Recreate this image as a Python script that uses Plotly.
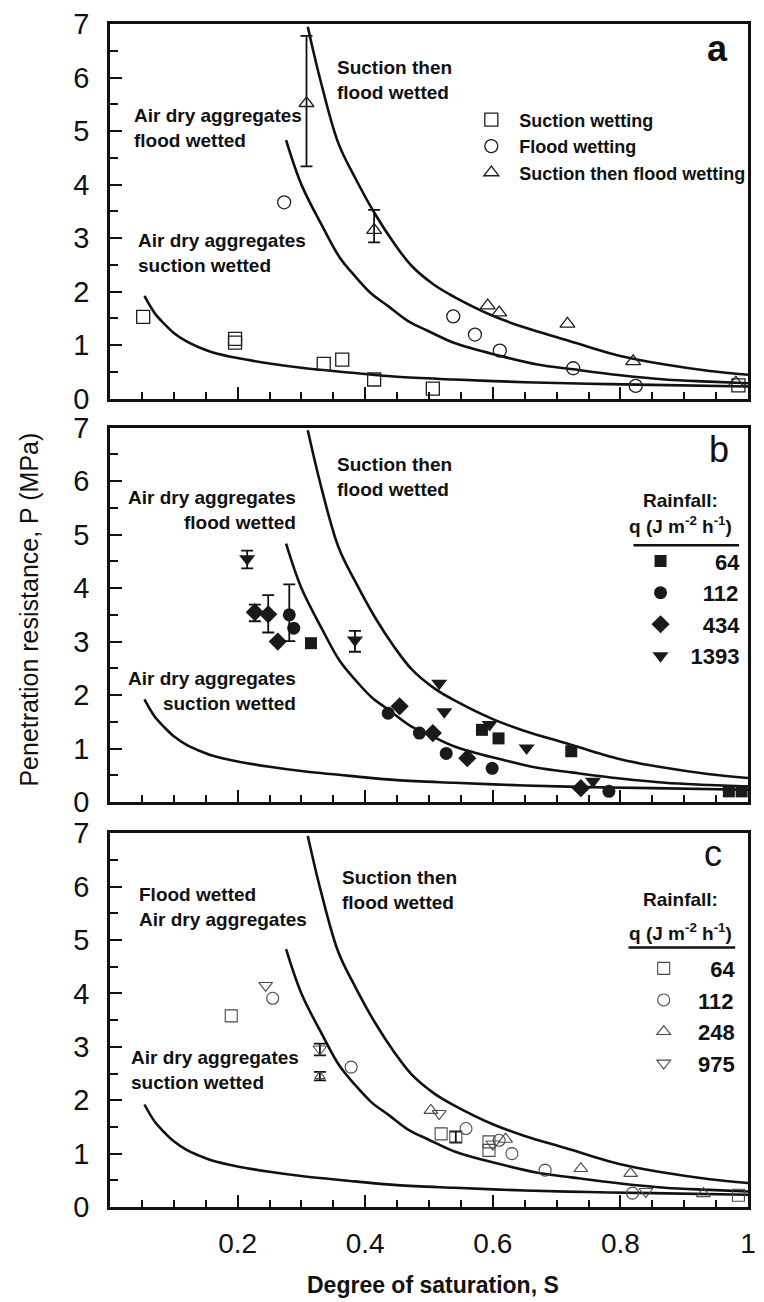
import plotly.graph_objects as go

# ---------------- curves (same in all panels) -------------
S_suction = [0.054, 0.07, 0.085, 0.1, 0.12, 0.136, 0.16, 0.2, 0.25, 0.3, 0.384, 0.45, 0.54, 0.65, 0.75, 0.85, 1.0]
P_suction = [1.92, 1.60, 1.40, 1.23, 1.07, 0.98, 0.87, 0.76, 0.66, 0.58, 0.48, 0.41, 0.36, 0.31, 0.28, 0.26, 0.23]

S_flood = [0.276, 0.3, 0.333, 0.36, 0.384, 0.41, 0.436, 0.47, 0.498, 0.54, 0.612, 0.67, 0.726, 0.8, 0.87, 0.94, 1.0]
P_flood = [4.83, 4.00, 3.22, 2.64, 2.29, 1.96, 1.73, 1.43, 1.27, 1.04, 0.80, 0.64, 0.55, 0.44, 0.36, 0.32, 0.29]

S_sf = [0.31, 0.33, 0.358, 0.385, 0.415, 0.445, 0.473, 0.509, 0.54, 0.6, 0.65, 0.715, 0.8, 0.87, 0.94, 1.0]
P_sf = [6.95, 5.94, 4.77, 4.11, 3.46, 2.91, 2.48, 2.12, 1.90, 1.55, 1.33, 1.10, 0.80, 0.64, 0.52, 0.45]

# ---------------- panel a ----------------
a_sq_S = [0.052, 0.196, 0.196, 0.335, 0.364, 0.414, 0.506, 0.985]
a_sq_P = [1.53, 1.05, 1.12, 0.65, 0.73, 0.36, 0.19, 0.25]
a_ci_S = [0.273, 0.538, 0.572, 0.611, 0.726, 0.824]
a_ci_P = [3.67, 1.54, 1.20, 0.90, 0.57, 0.24]
a_tr_S = [0.592, 0.61, 0.717, 0.82, 0.981]
a_tr_P = [1.74, 1.61, 1.40, 0.70, 0.30]
a_tre_S = [0.308, 0.414]
a_tre_P = [5.52, 3.15]
a_tre_up = [1.26, 0.38]
a_tre_dn = [1.18, 0.23]

# ---------------- panel b ----------------
b_sq_S = [0.315, 0.583, 0.609, 0.723, 0.97, 0.99]
b_sq_P = [2.97, 1.35, 1.19, 0.95, 0.20, 0.20]
b_ci_S = [0.288, 0.436, 0.485, 0.527, 0.599, 0.782]
b_ci_P = [3.25, 1.66, 1.29, 0.91, 0.63, 0.20]
b_cie_S = [0.281]
b_cie_P = [3.50]
b_cie_up = [0.57]
b_cie_dn = [0.49]
b_di_S = [0.263, 0.454, 0.506, 0.56, 0.738]
b_di_P = [3.00, 1.79, 1.29, 0.82, 0.26]
b_die_S = [0.227, 0.248]
b_die_P = [3.55, 3.51]
b_die_up = [0.14, 0.36]
b_die_dn = [0.17, 0.34]
b_td_S = [0.516, 0.524, 0.595, 0.653, 0.757]
b_td_P = [2.22, 1.69, 1.45, 1.01, 0.39]
b_tde_S = [0.215, 0.384]
b_tde_P = [4.55, 3.03]
b_tde_up = [0.15, 0.17]
b_tde_dn = [0.18, 0.22]

# ---------------- panel c ----------------
c_sq_S = [0.19, 0.519, 0.594, 0.594, 0.985]
c_sq_P = [3.58, 1.37, 1.22, 1.06, 0.22]
c_sqe_S = [0.542]
c_sqe_P = [1.31]
c_sqe_err = [0.10]
c_ci_S = [0.255, 0.378, 0.558, 0.61, 0.63, 0.682, 0.819]
c_ci_P = [3.91, 2.62, 1.47, 1.25, 1.00, 0.69, 0.26]
c_tu_S = [0.503, 0.62, 0.738, 0.816, 0.93]
c_tu_P = [1.81, 1.27, 0.72, 0.63, 0.25]
c_tue_S = [0.329]
c_tue_P = [2.45]
c_tue_err = [0.08]
c_td_S = [0.244, 0.516, 0.60, 0.84]
c_td_P = [4.15, 1.75, 1.18, 0.29]
c_tde_S = [0.329]
c_tde_P = [2.96]
c_tde_up = [0.10]
c_tde_dn = [0.12]

x_tickvals = [0.2, 0.4, 0.6, 0.8, 1.0]
x_ticktext = ["0.2", "0.4", "0.6", "0.8", "1"]
y_tickvals = [0, 1, 2, 3, 4, 5, 6, 7]

FONT = "Liberation Sans"
INK = "#111111"

fig = go.Figure()

def add_curves(xa, ya):
    for S, P in ((S_suction, P_suction), (S_flood, P_flood), (S_sf, P_sf)):
        fig.add_trace(go.Scatter(x=S, y=P, mode="lines", xaxis=xa, yaxis=ya,
                                 line=dict(color=INK, width=2.6, shape="spline", smoothing=1.0),
                                 showlegend=False, hoverinfo="skip"))

def add_pts(S, P, xa, ya, symbol, size, color, lw, name=None, legend=None, err=None):
    kw = {}
    if err is not None:
        up, dn = err
        kw["error_y"] = dict(type="data", symmetric=False, array=up, arrayminus=dn,
                             color=INK, thickness=1.8, width=6)
    fig.add_trace(go.Scatter(x=S, y=P, mode="markers", xaxis=xa, yaxis=ya,
                             marker=dict(symbol=symbol, size=size, color=color,
                                         line=dict(width=lw, color=color)),
                             name=name if name else "", showlegend=name is not None,
                             legend=legend if legend else "legend", **kw))

# panel a
add_curves("x", "y")
OA = "#1e1e1e"
add_pts(a_sq_S, a_sq_P, "x", "y", "square-open", 13, OA, 1.3,
        "<b>Suction wetting</b>", "legend")
add_pts(a_ci_S, a_ci_P, "x", "y", "circle-open", 13, OA, 1.3,
        "<b>Flood wetting</b>", "legend")
add_pts(a_tr_S, a_tr_P, "x", "y", "triangle-up-open", 13, OA, 1.3,
        "<b>Suction then flood wetting</b>", "legend")
add_pts(a_tre_S, a_tre_P, "x", "y", "triangle-up-open", 13, OA, 1.3,
        err=(a_tre_up, a_tre_dn))

# panel b
add_curves("x2", "y2")
FB = "#1a1a1a"
add_pts(b_sq_S, b_sq_P, "x2", "y2", "square", 12, FB, 0, "<b>\u2007\u200764</b>", "legend2")
add_pts(b_ci_S, b_ci_P, "x2", "y2", "circle", 13, FB, 0, "<b>\u2007112</b>", "legend2")
add_pts(b_di_S, b_di_P, "x2", "y2", "diamond", 14, FB, 0, "<b>\u2007434</b>", "legend2")
add_pts(b_td_S, b_td_P, "x2", "y2", "triangle-down", 14, FB, 0, "<b>1393</b>", "legend2")
add_pts(b_cie_S, b_cie_P, "x2", "y2", "circle", 13, FB, 0, err=(b_cie_up, b_cie_dn))
add_pts(b_die_S, b_die_P, "x2", "y2", "diamond", 14, FB, 0, err=(b_die_up, b_die_dn))
add_pts(b_tde_S, b_tde_P, "x2", "y2", "triangle-down", 14, FB, 0, err=(b_tde_up, b_tde_dn))

# panel c
add_curves("x3", "y3")
OC = "#4a4a4a"
add_pts(c_sq_S, c_sq_P, "x3", "y3", "square-open", 12, OC, 1.1, "<b>\u2007\u200764</b>", "legend3")
add_pts(c_ci_S, c_ci_P, "x3", "y3", "circle-open", 12, OC, 1.1, "<b>\u2007112</b>", "legend3")
add_pts(c_tu_S, c_tu_P, "x3", "y3", "triangle-up-open", 12, OC, 1.1, "<b>\u2007248</b>", "legend3")
add_pts(c_td_S, c_td_P, "x3", "y3", "triangle-down-open", 12, OC, 1.1, "<b>\u2007975</b>", "legend3")
add_pts(c_sqe_S, c_sqe_P, "x3", "y3", "square-open", 12, OC, 1.1, err=(c_sqe_err, c_sqe_err))
add_pts(c_tue_S, c_tue_P, "x3", "y3", "triangle-up-open", 9, OC, 1.1, err=(c_tue_err, c_tue_err))
add_pts(c_tde_S, c_tde_P, "x3", "y3", "triangle-down-open", 12, OC, 1.1, err=(c_tde_up, c_tde_dn))

# ---------------- axes ----------------
domains = {"": [0.6832, 1.0], "2": [0.3423, 0.6588], "3": [0.0, 0.3159]}
for k, dom in domains.items():
    xa = dict(domain=[0, 1], range=[0, 1], anchor="y" + k, showline=True, linecolor=INK,
              linewidth=2.6, mirror=True, ticks="inside", ticklen=12, tickwidth=2,
              tickcolor=INK, tickvals=x_tickvals, ticktext=x_ticktext,
              showticklabels=(k == "3"), showgrid=False, zeroline=False,
              tickfont=dict(family=FONT, size=28, color=INK), ticklabelstandoff=10,
              minor=dict(dtick=0.05, tick0=0, ticks="inside", ticklen=7, tickwidth=2,
                         tickcolor=INK, showgrid=False))
    ya = dict(domain=dom, range=[0, 7], anchor="x" + k, showline=True, linecolor=INK,
              linewidth=2.6, mirror=True, ticks="inside", ticklen=12, tickwidth=2,
              tickcolor=INK, tickvals=y_tickvals, showgrid=False, zeroline=False,
              tickfont=dict(family=FONT, size=29, color=INK), ticklabelstandoff=12,
              minor=dict(dtick=0.5, tick0=0, ticks="inside", ticklen=8, tickwidth=2,
                         tickcolor=INK, showgrid=False))
    fig.update_layout(**{"xaxis" + k: xa, "yaxis" + k: ya})

# ---------------- annotations ----------------
ann = []
def txt(x, y, t, xref, yref, xanchor="left", align="left", size=19, bold=True):
    ann.append(dict(x=x, y=y, xref=xref, yref=yref, text=("<b>%s</b>" % t) if bold else t,
                    showarrow=False, xanchor=xanchor, yanchor="middle", align=align,
                    font=dict(family=FONT, size=size, color=INK)))

# panel a
txt(0.952, 6.54, "a", "x", "y", "center", size=36)
txt(0.353, 5.96, "Suction then<br>flood wetted", "x", "y")
txt(0.034, 5.06, "Air dry aggregates<br>flood wetted", "x", "y")
txt(0.041, 2.72, "Air dry aggregates<br>suction wetted", "x", "y")
# panel b
txt(0.955, 6.60, "b", "x2", "y2", "center", size=36, bold=False)
txt(0.353, 6.08, "Suction then<br>flood wetted", "x2", "y2")
txt(0.294, 5.46, "Air dry aggregates<br>flood wetted", "x2", "y2", "right", "right")
txt(0.294, 2.07, "Air dry aggregates<br>suction wetted", "x2", "y2", "right", "right")
# panel c
txt(0.945, 6.63, "c", "x3", "y3", "center", size=36, bold=False)
txt(0.361, 5.93, "Suction then<br>flood wetted", "x3", "y3")
txt(0.043, 5.62, "Flood wetted<br>Air dry aggregates", "x3", "y3")
txt(0.029, 2.57, "Air dry aggregates<br>suction wetted", "x3", "y3")

# legend headings (b and c)
txt(0.8947, 0.5973, "Rainfall:", "paper", "paper", "center", "center")
txt(0.8947, 0.5762, "q (J m<sup>-2</sup> h<sup>-1</sup>)", "paper", "paper", "center", "center")
txt(0.8947, 0.2603, "Rainfall:", "paper", "paper", "center", "center")
txt(0.8947, 0.2328, "q (J m<sup>-2</sup> h<sup>-1</sup>)", "paper", "paper", "center", "center")

# axis titles
ann.append(dict(x=0.507, y=-0.066, xref="paper", yref="paper", showarrow=False,
                text="<b>Degree of saturation, S</b>", xanchor="center", yanchor="middle",
                font=dict(family=FONT, size=23, color=INK)))
ann.append(dict(x=-0.127, y=0.505, xref="paper", yref="paper", showarrow=False,
                text="Penetration resistance, P (MPa)", textangle=-90,
                xanchor="center", yanchor="middle",
                font=dict(family=FONT, size=25, color=INK)))

# underline of legend titles
shapes = [
    dict(type="line", xref="paper", yref="paper", x0=0.8204, x1=0.986, y0=0.5594, y1=0.5594,
         line=dict(color=INK, width=2.5)),
    dict(type="line", xref="paper", yref="paper", x0=0.8127, x1=0.9799, y0=0.2193, y1=0.2193,
         line=dict(color=INK, width=2.5)),
]

fig.update_layout(
    width=764, height=1302,
    margin=dict(l=110, r=8, t=20, b=95),
    paper_bgcolor="white", plot_bgcolor="white",
    font=dict(family=FONT, color=INK),
    annotations=ann, shapes=shapes,
    legend=dict(x=0.5538, y=0.9345, xanchor="left", yanchor="top", bgcolor="rgba(0,0,0,0)",
                font=dict(family=FONT, size=18, color=INK), itemwidth=46),
    legend2=dict(x=0.8159, y=0.5636, xanchor="left", yanchor="top", bgcolor="rgba(0,0,0,0)",
                 font=dict(family=FONT, size=22, color=INK), itemwidth=50),
    legend3=dict(x=0.8334, y=0.2193, xanchor="left", yanchor="top", bgcolor="rgba(0,0,0,0)",
                 font=dict(family=FONT, size=22, color=INK), itemwidth=34),
)

fig.write_html("out.html")
